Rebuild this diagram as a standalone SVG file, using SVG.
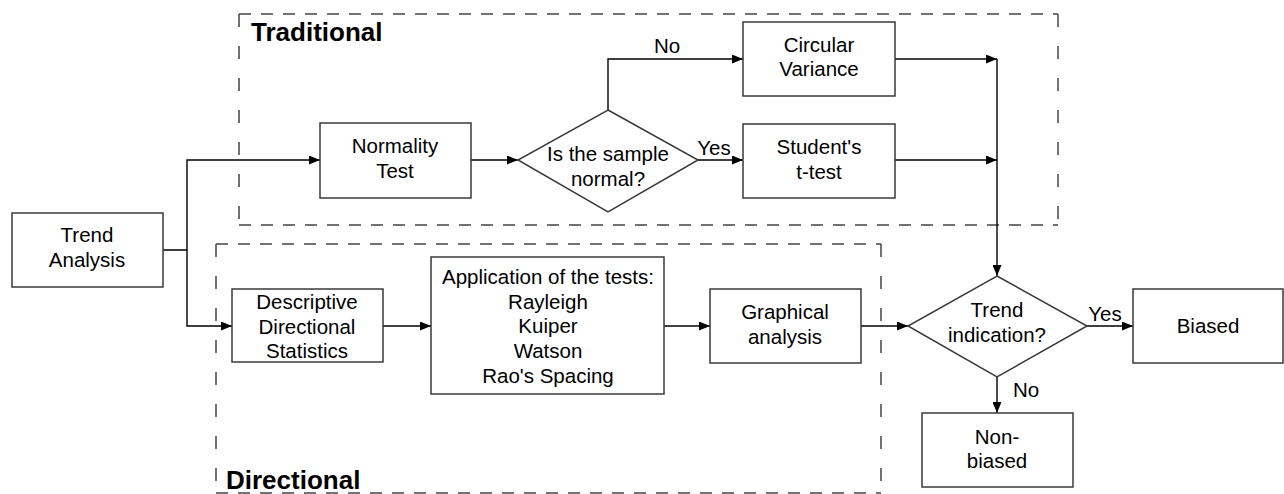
<svg xmlns="http://www.w3.org/2000/svg" width="1284" height="494" viewBox="0 0 1284 494">
<style>
  .box { fill: #fff; stroke: #3a3a3a; stroke-width: 1.5; }
  .t { font-family: "Liberation Sans", Arial, sans-serif; font-size: 20.5px; fill: #000; text-anchor: middle; }
  .title { font-family: "Liberation Sans", Arial, sans-serif; font-size: 26px; font-weight: bold; fill: #000; }
  .conn { fill: none; stroke: #000; stroke-width: 1.4; }
  .dh { stroke: #444; stroke-width: 1.5; stroke-dasharray: 12 10; fill: none; }
  .dv { stroke: #444; stroke-width: 1.5; stroke-dasharray: 13 19; fill: none; }
</style>
<defs>
  <marker id="arr" markerWidth="11" markerHeight="9" refX="11" refY="4.5" orient="auto" markerUnits="userSpaceOnUse">
    <path d="M0,0 L11,4.5 L0,9 Z" fill="#000"/>
  </marker>
</defs>
<rect width="1284" height="494" fill="#fff"/>

<g id="group-traditional">
  <line class="dh" x1="239" y1="14" x2="1058" y2="14"/>
  <line class="dh" x1="239" y1="225" x2="1058" y2="225"/>
  <line class="dv" x1="239" y1="14" x2="239" y2="225"/>
  <line class="dv" x1="1058" y1="14" x2="1058" y2="225"/>
  <text class="title" x="251" y="41">Traditional</text>
</g>
<g id="group-directional">
  <line class="dh" x1="216" y1="244" x2="881" y2="244"/>
  <line class="dh" x1="216" y1="493" x2="881" y2="493"/>
  <line class="dv" x1="216" y1="244" x2="216" y2="494"/>
  <line class="dv" x1="881" y1="244" x2="881" y2="494"/>
  <text class="title" x="226" y="489">Directional</text>
</g>

<g id="connectors">
  <polyline class="conn" points="163,250 187,250 187,160 320,160" marker-end="url(#arr)"/>
  <polyline class="conn" points="187,250 187,326 232,326" marker-end="url(#arr)"/>
  <line class="conn" x1="471" y1="160" x2="518" y2="160" marker-end="url(#arr)"/>
  <polyline class="conn" points="608,110 608,59 743,59" marker-end="url(#arr)"/>
  <line class="conn" x1="698" y1="160" x2="743" y2="160" marker-end="url(#arr)"/>
  <line class="conn" x1="895" y1="59" x2="997" y2="59" marker-end="url(#arr)"/>
  <line class="conn" x1="895" y1="160" x2="997" y2="160" marker-end="url(#arr)"/>
  <line class="conn" x1="997" y1="59" x2="997" y2="276" marker-end="url(#arr)"/>
  <line class="conn" x1="383" y1="326" x2="431" y2="326" marker-end="url(#arr)"/>
  <line class="conn" x1="664" y1="326" x2="710" y2="326" marker-end="url(#arr)"/>
  <line class="conn" x1="861" y1="326" x2="908" y2="326" marker-end="url(#arr)"/>
  <line class="conn" x1="1087" y1="326" x2="1133" y2="326" marker-end="url(#arr)"/>
  <line class="conn" x1="997" y1="377" x2="997" y2="413" marker-end="url(#arr)"/>
  <text class="t" x="667" y="53">No</text>
  <text class="t" x="714" y="155">Yes</text>
  <text class="t" x="1105" y="321">Yes</text>
  <text class="t" x="1026" y="397">No</text>
</g>

<g id="trend-analysis">
  <rect class="box" x="12" y="213" width="151" height="74"/>
  <text class="t" x="87" y="242">Trend</text>
  <text class="t" x="87" y="267">Analysis</text>
</g>
<g id="normality-test">
  <rect class="box" x="320" y="123" width="151" height="75"/>
  <text class="t" x="395" y="153">Normality</text>
  <text class="t" x="395" y="178">Test</text>
</g>
<g id="is-normal">
  <polygon class="box" points="608,110 698,160 608,212 518,160"/>
  <text class="t" x="608" y="161">Is the sample</text>
  <text class="t" x="608" y="186">normal?</text>
</g>
<g id="circular-variance">
  <rect class="box" x="743" y="22" width="152" height="74"/>
  <text class="t" x="819" y="52">Circular</text>
  <text class="t" x="819" y="76">Variance</text>
</g>
<g id="students-t-test">
  <rect class="box" x="743" y="124" width="152" height="74"/>
  <text class="t" x="819" y="154">Student's</text>
  <text class="t" x="819" y="179">t-test</text>
</g>
<g id="descriptive">
  <rect class="box" x="232" y="289" width="151" height="73"/>
  <text class="t" x="307" y="309">Descriptive</text>
  <text class="t" x="307" y="334">Directional</text>
  <text class="t" x="307" y="358">Statistics</text>
</g>
<g id="application">
  <rect class="box" x="431" y="257" width="233" height="137"/>
  <text class="t" x="548" y="284">Application of the tests:</text>
  <text class="t" x="548" y="309">Rayleigh</text>
  <text class="t" x="548" y="333">Kuiper</text>
  <text class="t" x="548" y="358">Watson</text>
  <text class="t" x="548" y="383">Rao's Spacing</text>
</g>
<g id="graphical-analysis">
  <rect class="box" x="710" y="289" width="151" height="74"/>
  <text class="t" x="785" y="319">Graphical</text>
  <text class="t" x="785" y="344">analysis</text>
</g>
<g id="trend-indication">
  <polygon class="box" points="997,276 1087,326 997,377 908,326"/>
  <text class="t" x="997" y="317">Trend</text>
  <text class="t" x="997" y="342">indication?</text>
</g>
<g id="biased">
  <rect class="box" x="1133" y="289" width="150" height="74"/>
  <text class="t" x="1208" y="333">Biased</text>
</g>
<g id="non-biased">
  <rect class="box" x="922" y="413" width="151" height="74"/>
  <text class="t" x="997" y="444">Non-</text>
  <text class="t" x="997" y="468">biased</text>
</g>
</svg>
